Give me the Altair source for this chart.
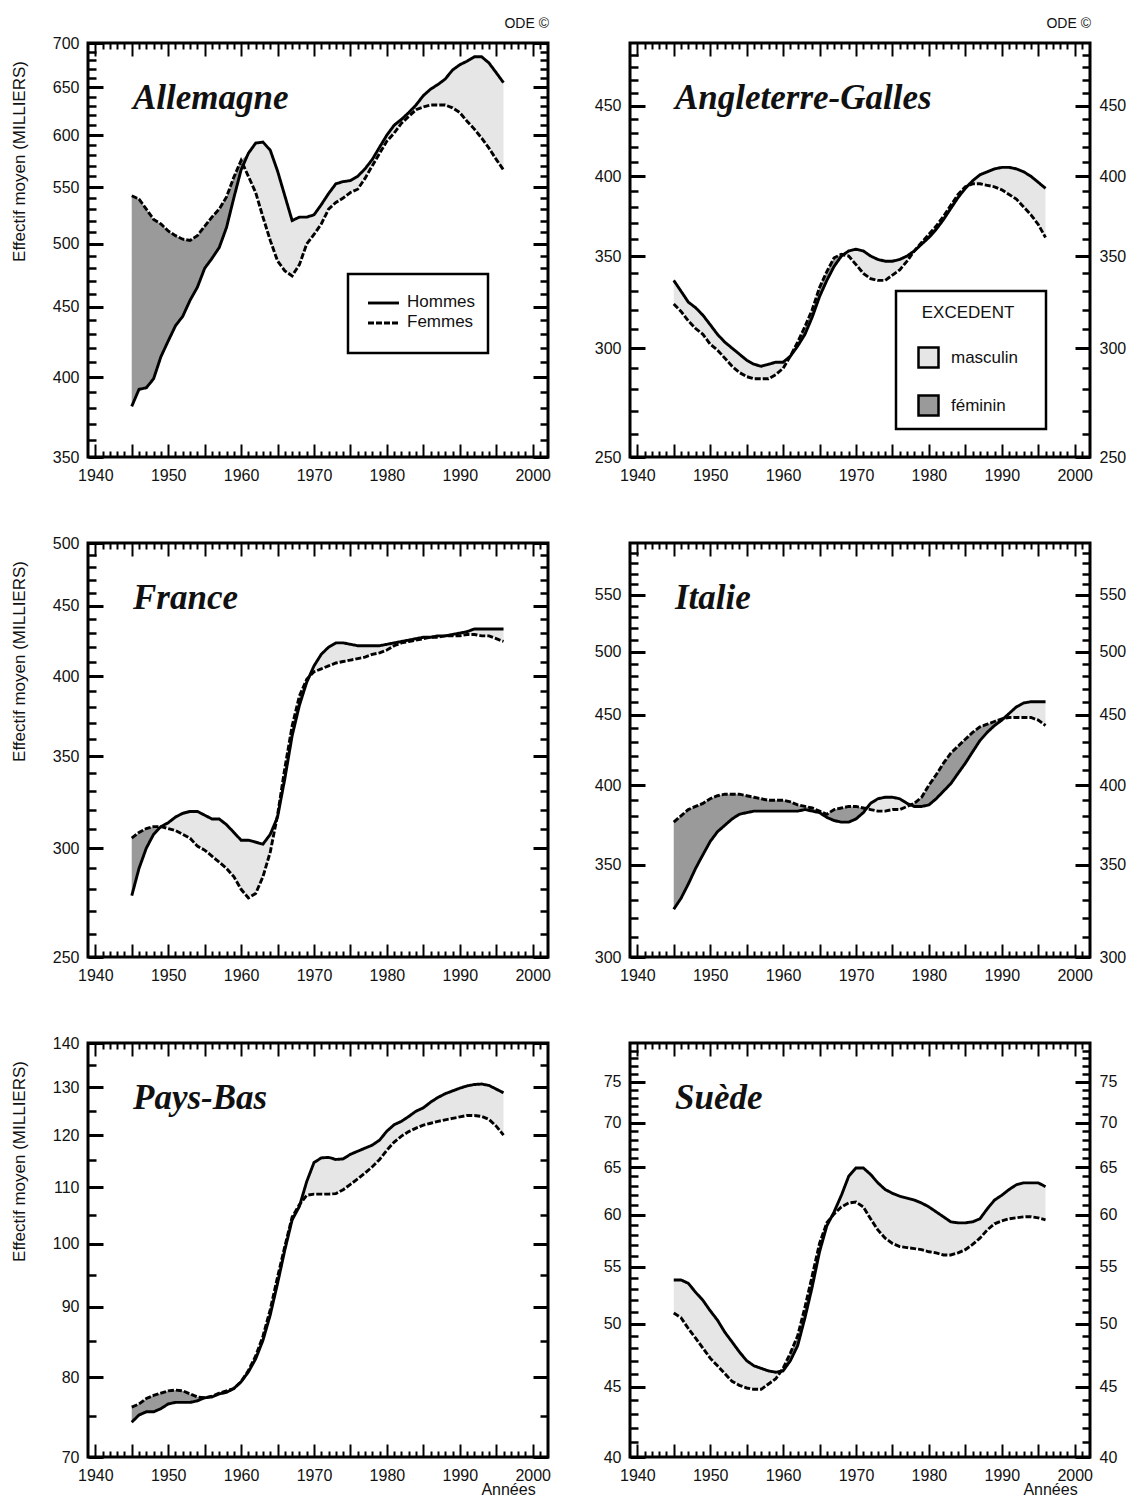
import altair as alt
import pandas as pd

# ---------------- data ----------------
YEARS = list(range(1945, 1997))

ALLEMAGNE_HOMMES = [381, 392, 393, 399, 414, 425, 436, 443, 455, 465, 480, 488, 497, 514, 540, 566,
                    582, 592, 593, 585, 565, 542, 520, 523, 523, 525, 534, 544, 553, 555, 556, 560,
                    567, 576, 588, 600, 610, 616, 623, 631, 641, 648, 653, 659, 669, 675, 679, 684,
                    684, 677, 666, 655]
ALLEMAGNE_FEMMES = [542, 539, 530, 521, 517, 511, 507, 504, 503, 507, 515, 523, 530, 541, 559, 575,
                    560, 545, 523, 503, 486, 478, 474, 483, 500, 508, 517, 530, 536, 540, 545, 548,
                    558, 570, 582, 594, 602, 612, 619, 626, 629, 631, 631, 631, 628, 623, 614, 606,
                    597, 587, 576, 566]

ANGLETERRE_HOMMES = [336, 330, 324, 321, 317, 312, 307, 303, 300, 297, 294, 292, 291, 292, 293, 293,
                     296, 301, 307, 316, 327, 336, 344, 350, 353, 354, 353, 350, 348, 347, 347, 348,
                     350, 353, 357, 361, 366, 372, 379, 386, 392, 397, 401, 403, 405, 406, 406, 405,
                     403, 400, 396, 392]
ANGLETERRE_FEMMES = [323, 319, 314, 310, 307, 302, 299, 295, 291, 288, 286, 285, 285, 285, 287, 290,
                     296, 303, 311, 320, 332, 341, 349, 351, 350, 345, 340, 337, 336, 336, 339, 342,
                     347, 353, 358, 363, 368, 374, 381, 388, 393, 395, 395, 394, 393, 391, 388, 385,
                     380, 375, 369, 361]

FRANCE_HOMMES = [277, 290, 300, 307, 311, 313, 316, 318, 319, 319, 317, 315, 315, 312, 308, 304,
                 304, 303, 302, 307, 316, 337, 362, 381, 396, 407, 415, 420, 423, 423, 422, 421,
                 421, 421, 421, 422, 423, 424, 425, 426, 427, 427, 428, 428, 429, 430, 431, 433,
                 433, 433, 433, 433]
FRANCE_FEMMES = [305, 308, 310, 311, 311, 310, 309, 307, 305, 301, 299, 296, 293, 290, 286, 280,
                 276, 278, 286, 298, 317, 343, 368, 387, 398, 403, 405, 407, 409, 410, 411, 412,
                 413, 415, 416, 418, 421, 423, 424, 425, 426, 427, 427, 428, 428, 428, 429, 429,
                 428, 428, 426, 424]

ITALIE_HOMMES = [325, 331, 339, 348, 356, 364, 370, 374, 378, 381, 382, 383, 383, 383, 383, 383,
                 383, 383, 384, 383, 382, 379, 377, 376, 376, 378, 382, 388, 391, 392, 392, 391,
                 388, 386, 386, 387, 391, 396, 401, 408, 415, 423, 431, 437, 442, 446, 451, 456,
                 459, 460, 460, 460]
ITALIE_FEMMES = [376, 380, 384, 386, 388, 391, 393, 394, 394, 394, 393, 392, 391, 390, 390, 390,
                 389, 387, 386, 385, 383, 381, 384, 385, 386, 386, 385, 384, 383, 383, 384, 384,
                 386, 388, 392, 400, 407, 415, 422, 427, 432, 437, 441, 443, 445, 447, 448, 448,
                 448, 448, 446, 442]

PAYSBAS_HOMMES = [74.2, 75.1, 75.5, 75.5, 75.9, 76.5, 76.7, 76.7, 76.7, 76.9, 77.3, 77.4, 77.8,
                  78.0, 78.5, 79.4, 80.7, 82.5, 85.1, 88.8, 93.6, 99.0, 104.1, 106.5, 111.0, 114.6,
                  115.5, 115.6, 115.2, 115.3, 116.2, 116.8, 117.4, 118.0, 119.0, 120.8, 122.1,
                  122.8, 123.8, 124.9, 125.6, 126.8, 127.8, 128.6, 129.2, 129.8, 130.3, 130.6,
                  130.7, 130.4, 129.6, 128.8]
PAYSBAS_FEMMES = [76.1, 76.5, 77.2, 77.6, 77.9, 78.2, 78.3, 78.2, 77.8, 77.4, 77.3, 77.5, 77.9,
                  78.2, 78.5, 79.4, 80.9, 82.9, 85.7, 89.6, 94.6, 99.6, 104.6, 106.8, 108.5, 108.7,
                  108.7, 108.7, 108.8, 109.5, 110.5, 111.5, 112.6, 113.8, 115.2, 117.0, 118.6,
                  119.8, 120.7, 121.4, 122.0, 122.4, 122.8, 123.1, 123.4, 123.7, 124.0, 124.0,
                  123.8, 123.2, 121.8, 120.0]

SUEDE_HOMMES = [53.8, 53.8, 53.5, 52.7, 52.0, 51.1, 50.3, 49.3, 48.5, 47.7, 47.0, 46.6, 46.4, 46.2,
                46.1, 46.2, 47.0, 48.2, 50.5, 53.2, 56.4, 58.9, 60.3, 62.0, 64.0, 64.9, 64.9, 64.2,
                63.3, 62.6, 62.2, 61.9, 61.7, 61.5, 61.2, 60.8, 60.3, 59.8, 59.3, 59.2, 59.2, 59.3,
                59.6, 60.6, 61.5, 62.0, 62.6, 63.1, 63.3, 63.3, 63.3, 62.9]
SUEDE_FEMMES = [50.9, 50.5, 49.6, 48.8, 48.0, 47.2, 46.6, 46.0, 45.4, 45.1, 44.9, 44.8, 44.8, 45.2,
                45.6, 46.4, 47.6, 49.0, 51.4, 54.2, 57.2, 59.2, 60.1, 60.8, 61.2, 61.3, 60.8, 59.6,
                58.5, 57.7, 57.2, 56.9, 56.8, 56.7, 56.6, 56.4, 56.3, 56.1, 56.1, 56.3, 56.6, 57.1,
                57.7, 58.5, 59.1, 59.4, 59.6, 59.7, 59.8, 59.8, 59.7, 59.5]

PAYS = ["Allemagne", "Angleterre-Galles", "France", "Italie", "Pays-Bas", "Suède"]
HOMMES = [ALLEMAGNE_HOMMES, ANGLETERRE_HOMMES, FRANCE_HOMMES, ITALIE_HOMMES, PAYSBAS_HOMMES, SUEDE_HOMMES]
FEMMES = [ALLEMAGNE_FEMMES, ANGLETERRE_FEMMES, FRANCE_FEMMES, ITALIE_FEMMES, PAYSBAS_FEMMES, SUEDE_FEMMES]

DOMAINES = [[350, 700], [250, 500], [250, 500], [300, 600], [70, 140], [40, 80]]
ETIQUETTES_Y = [
    [350, 400, 450, 500, 550, 600, 650, 700],
    [250, 300, 350, 400, 450],
    [250, 300, 350, 400, 450, 500],
    [300, 350, 400, 450, 500, 550],
    [70, 80, 90, 100, 110, 120, 130, 140],
    [40, 45, 50, 55, 60, 65, 70, 75],
]
PAS_MINEUR = [10, 10, 10, 10, 5, 1]

ANNEES_MAJ = list(range(1940, 2001, 5))
ANNEES_MIN = [a for a in range(1941, 2002) if a % 5]
X_DOMAINE = [1939, 2002.1]

SEXES = ["Hommes", "Femmes"]
EXCEDENTS = ["masculin", "féminin"]

# ---------------- styles ----------------
FONT = "Liberation Sans"
SERIF = "Liberation Serif"
CLAIR = "#e6e6e6"
FONCE = "#9a9a9a"
ENCRE = "#111111"
W, H = 460, 414
TRAIT = 2.9


def axe_x(orient, majeur, etiquettes=False, titre=None):
    t = 13 if majeur else 6
    kw = dict(orient=orient, values=ANNEES_MAJ if majeur else ANNEES_MIN, tickSize=t, offset=-t,
              tickWidth=2, tickColor="black", domain=False, grid=False, labels=etiquettes, zindex=1)
    if etiquettes:
        kw.update(format="d", labelExpr="datum.value % 10 === 0 ? datum.label : ''",
                  labelFont=FONT, labelFontSize=16, labelColor=ENCRE, labelPadding=10,
                  labelFlush=False, labelOverlap=False)
    if titre:
        kw.update(title=titre, titleFont=FONT, titleFontSize=16, titleFontWeight="normal",
                  titleColor=ENCRE, titleX=420, titleY=45, titleAlign="center", titleBaseline="middle")
    else:
        kw["title"] = None
    return alt.Axis(**kw)


def axe_y(orient, valeurs, majeur, etiquettes=False, titre=None):
    t = 15 if majeur else 8
    kw = dict(orient=orient, values=valeurs, tickSize=t, offset=-t, tickWidth=3 if majeur else 2.5,
              tickColor="black", domain=False, grid=False, labels=etiquettes, zindex=1)
    if etiquettes:
        kw.update(format="d", labelFont=FONT, labelFontSize=16, labelColor=ENCRE, labelPadding=9,
                  labelFlush=False, labelOverlap=False)
    if titre:
        kw.update(title=titre, titleFont=FONT, titleFontSize=17, titleFontWeight="normal",
                  titleColor=ENCRE, titleX=-84, titleY=118, titleAngle=270, titleAlign="center",
                  titleBaseline="middle")
    else:
        kw["title"] = None
    return alt.Axis(**kw)


def un(texte):
    return pd.DataFrame({"t": [texte]})


def panneau(i):
    nom, h, f = PAYS[i], HOMMES[i], FEMMES[i]
    col, row = i % 2, i // 2
    n = len(YEARS)
    lignes_df = pd.DataFrame({"annee": YEARS * 2, "effectif": h + f,
                              "sexe": [SEXES[0]] * n + [SEXES[1]] * n})
    haut = [max(a, b) for a, b in zip(h, f)]
    aires_df = pd.DataFrame({"annee": YEARS * 2, "bas": f + h, "haut": haut + haut,
                             "excedent": [EXCEDENTS[0]] * n + [EXCEDENTS[1]] * n})
    lo, hi = DOMAINES[i]
    maj = ETIQUETTES_Y[i]
    mineurs = [v for v in range(lo + PAS_MINEUR[i], hi, PAS_MINEUR[i]) if v not in maj]

    xs = alt.Scale(domain=X_DOMAINE, nice=False, zero=False)
    ys = alt.Scale(type="log", domain=[lo, hi], nice=False)

    titre_y = "Effectif moyen (MILLIERS)" if col == 0 else None
    titre_x = "Années" if row == 2 else None

    if i == 1:
        leg_fill = alt.Legend(title="EXCEDENT", orient="none", legendX=287, legendY=262,
                              direction="vertical", symbolType="square", symbolSize=400,
                              symbolStrokeColor="black", symbolStrokeWidth=2.5, symbolOpacity=1,
                              labelFont=FONT, labelFontSize=17, labelColor=ENCRE, labelOffset=11,
                              titleFont=FONT, titleFontSize=17, titleFontWeight="normal",
                              titleColor=ENCRE, titleAnchor="middle", titlePadding=24,
                              rowPadding=17, padding=0)
    else:
        leg_fill = None

    aire = alt.Chart(aires_df).mark_area(interpolate="linear").encode(
        x=alt.X("annee:Q", scale=xs, axis=axe_x("bottom", True, True, titre_x)),
        y=alt.Y("bas:Q", scale=ys, axis=axe_y("left", maj, True, True, titre_y)),
        y2="haut:Q",
        fill=alt.Fill("excedent:N", scale=alt.Scale(domain=EXCEDENTS, range=[CLAIR, FONCE]),
                      legend=leg_fill),
    )
    lignes = alt.Chart(lignes_df).mark_line(color="black", strokeWidth=TRAIT).encode(
        x=alt.X("annee:Q", scale=xs, axis=axe_x("bottom", False)),
        y=alt.Y("effectif:Q", scale=ys, axis=axe_y("left", mineurs, False)),
        strokeDash=alt.StrokeDash("sexe:N", scale=alt.Scale(domain=SEXES, range=[[1, 0], [6, 2]]),
                                  legend=None),
    )
    fantome1 = alt.Chart(lignes_df).mark_line(strokeOpacity=0).encode(
        x=alt.X("annee:Q", scale=xs, axis=axe_x("top", True)),
        y=alt.Y("effectif:Q", scale=ys, axis=axe_y("right", maj, True, col == 1)),
        detail="sexe:N",
    )
    fantome2 = alt.Chart(lignes_df).mark_line(strokeOpacity=0).encode(
        x=alt.X("annee:Q", scale=xs, axis=axe_x("top", False)),
        y=alt.Y("effectif:Q", scale=ys, axis=axe_y("right", mineurs, False)),
        detail="sexe:N",
    )
    titre = alt.Chart(un(nom)).mark_text(font=SERIF, fontSize=35, fontStyle="italic",
                                         fontWeight="bold", align="left", baseline="alphabetic",
                                         color=ENCRE).encode(
        x=alt.value(45), y=alt.value(66), text="t:N")

    couches = [aire, lignes, fantome1, fantome2, titre]

    if row == 0:
        couches.append(alt.Chart(un("ODE ©")).mark_text(font=FONT, fontSize=14, align="right",
                                                        baseline="alphabetic", color=ENCRE).encode(
            x=alt.value(461), y=alt.value(-15), text="t:N"))

    if i == 0:
        couches.append(alt.Chart(un("cadre")).mark_rect(fill="white", stroke="black",
                                                        strokeWidth=2.5).encode(
            x=alt.value(260), x2=alt.value(400), y=alt.value(231), y2=alt.value(310)))
        couches.append(alt.Chart(un(SEXES[0])).mark_rule(color="black", strokeWidth=TRAIT).encode(
            x=alt.value(280), x2=alt.value(311), y=alt.value(260)))
        couches.append(alt.Chart(un(SEXES[1])).mark_rule(color="black", strokeWidth=TRAIT,
                                                          strokeDash=[6, 2]).encode(
            x=alt.value(280), x2=alt.value(311), y=alt.value(280)))
        for k, yy in zip(SEXES, [259, 279]):
            couches.append(alt.Chart(un(k)).mark_text(font=FONT, fontSize=17, align="left",
                                                      baseline="middle", color=ENCRE).encode(
                x=alt.value(319), y=alt.value(yy), text="t:N"))
    if i == 1:
        couches.insert(2, alt.Chart(un("cadre")).mark_rect(fill="white", stroke="black",
                                                           strokeWidth=2.5).encode(
            x=alt.value(266), x2=alt.value(416), y=alt.value(248), y2=alt.value(386)))

    return alt.layer(*couches).resolve_axis(x="independent", y="independent").properties(
        width=W, height=H)


panneaux = [panneau(i) for i in range(6)]

chart = alt.concat(*panneaux, columns=2, spacing={"row": 86, "column": 82}, bounds="flush").resolve_scale(
    fill="independent", strokeDash="independent"
).configure_view(stroke="black", strokeWidth=3).properties(
    padding={"left": 8, "top": 15, "right": 0, "bottom": 0}, background="white"
)

chart.save("out.html", embed_options={"renderer": "svg", "actions": False})
